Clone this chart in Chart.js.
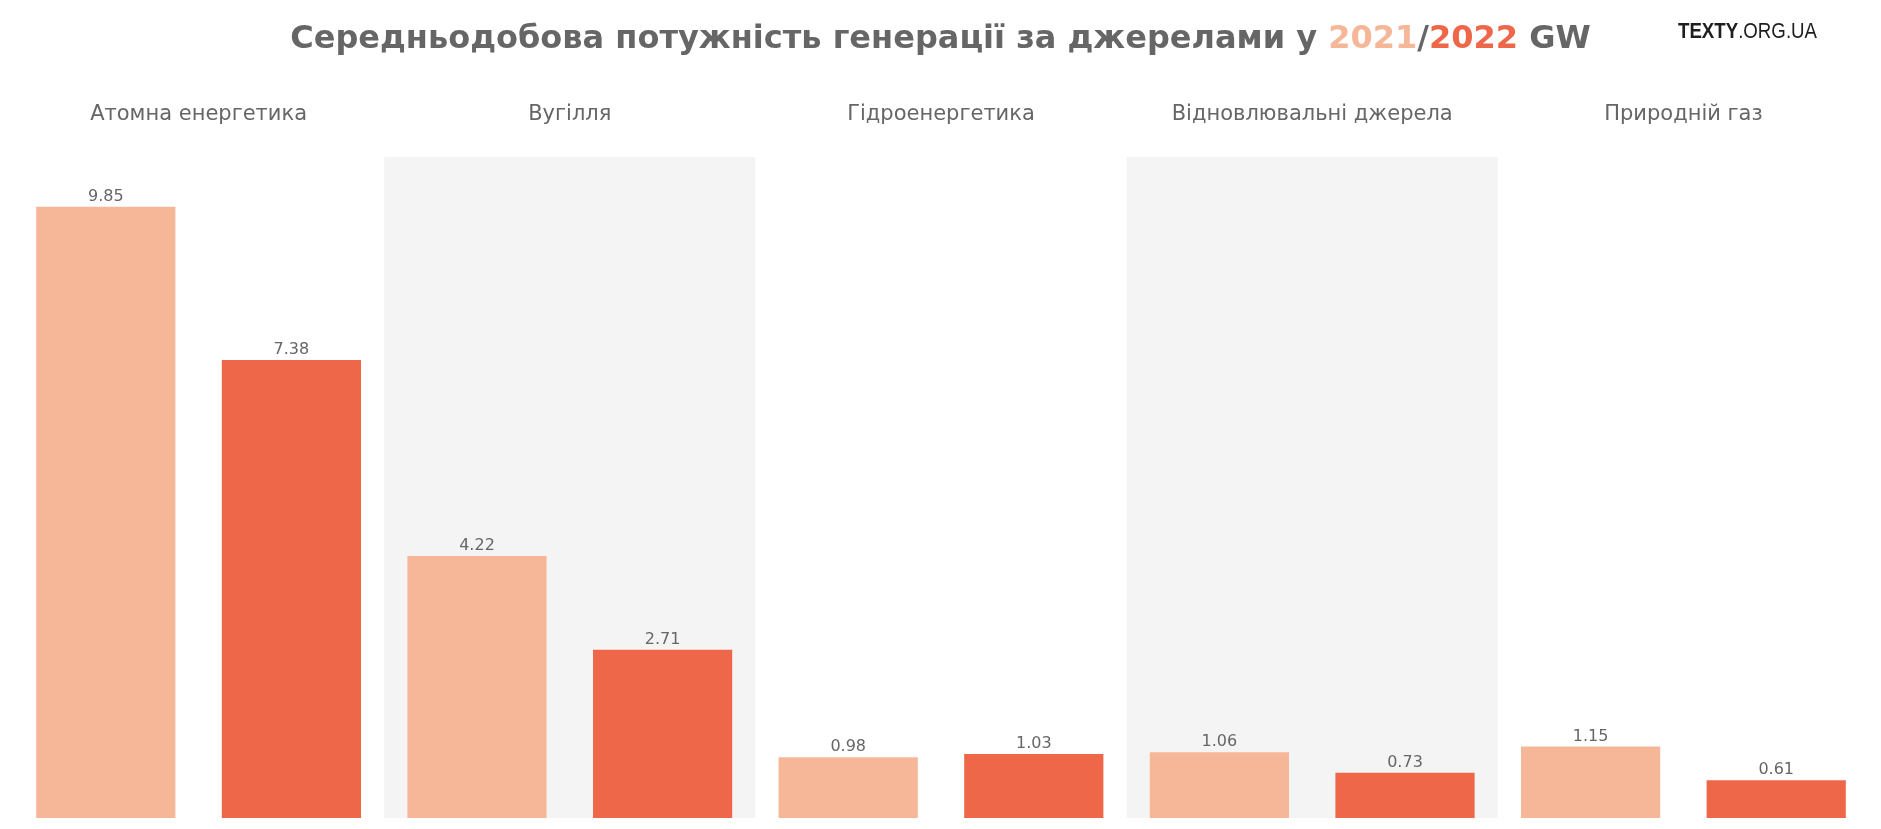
<!DOCTYPE html>
<html lang="uk">
<head>
<meta charset="utf-8">
<title>Середньодобова потужність генерації за джерелами</title>
<script src="https://cdn.jsdelivr.net/npm/chart.js@4.4.1/dist/chart.umd.min.js"></script>
<style>
  html, body { margin: 0; padding: 0; background: #fff; }
  canvas { display: block; }
</style>
</head>
<body>
<canvas id="chart" width="1881" height="829"></canvas>
<script>
const CATEGORIES = ['Атомна енергетика', 'Вугілля', 'Гідроенергетика', 'Відновлювальні джерела', 'Природній газ'];
const VALUES_2021 = [9.85, 4.22, 0.98, 1.06, 1.15];
const VALUES_2022 = [7.38, 2.71, 1.03, 0.73, 0.61];
const SHADED_PANELS = [1, 3];

const COLOR_2021 = '#f6b698';
const COLOR_2022 = '#ed6748';
const TEXT_GRAY = '#666666';
const FONT = '"DejaVu Sans", sans-serif';

// grey backdrop behind every second category
const panelShading = {
    id: 'panelShading',
    beforeDatasetsDraw(chart) {
        const { ctx, chartArea, scales } = chart;
        const half = scales.x.width / CATEGORIES.length / 2;
        ctx.save();
        ctx.fillStyle = '#f4f4f4';
        SHADED_PANELS.forEach(i => {
            const cx = scales.x.getPixelForValue(i);
            ctx.fillRect(cx - half, chartArea.top, half * 2, chartArea.bottom - chartArea.top);
        });
        ctx.restore();
    },
};

const valueLabels = {
    id: 'valueLabels',
    afterDatasetsDraw(chart) {
        const { ctx } = chart;
        ctx.save();
        ctx.font = '16px ' + FONT;
        ctx.fillStyle = TEXT_GRAY;
        ctx.textAlign = 'center';
        ctx.textBaseline = 'alphabetic';
        chart.data.datasets.forEach((ds, di) => {
            chart.getDatasetMeta(di).data.forEach((bar, i) => {
                ctx.fillText(ds.data[i].toFixed(2), bar.x, bar.y - 6);
            });
        });
        ctx.restore();
    },
};

// title with coloured years + logo
const header = {
    id: 'header',
    afterDraw(chart) {
        const { ctx, width } = chart;
        const parts = [
            ['Середньодобова потужність генерації за джерелами у ', TEXT_GRAY],
            ['2021', COLOR_2021],
            ['/', TEXT_GRAY],
            ['2022', COLOR_2022],
            [' GW', TEXT_GRAY],
        ];
        ctx.save();
        ctx.font = 'bold 32px ' + FONT;
        ctx.textBaseline = 'alphabetic';
        ctx.textAlign = 'left';
        const total = parts.reduce((s, p) => s + ctx.measureText(p[0]).width, 0);
        let x = width / 2 - total / 2;
        parts.forEach(([txt, col]) => {
            ctx.fillStyle = col;
            ctx.fillText(txt, x, 48);
            x += ctx.measureText(txt).width;
        });

        ctx.fillStyle = '#1e1e1e';
        ctx.font = 'bold 22px "Liberation Sans", sans-serif';
        const w1 = ctx.measureText('TEXTY').width;
        ctx.font = '22px "Liberation Sans", sans-serif';
        const w2 = ctx.measureText('.ORG.UA').width;
        const sx = 139 / (w1 + w2);
        ctx.translate(1678, 38);
        ctx.scale(sx, 1);
        ctx.font = 'bold 22px "Liberation Sans", sans-serif';
        ctx.fillText('TEXTY', 0, 0);
        ctx.font = '22px "Liberation Sans", sans-serif';
        ctx.fillText('.ORG.UA', w1, 0);
        ctx.restore();
    },
};

new Chart(document.getElementById('chart'), {
    type: 'bar',
    data: {
        labels: CATEGORIES,
        datasets: [
            { label: '2021', data: VALUES_2021, backgroundColor: COLOR_2021 },
            { label: '2022', data: VALUES_2022, backgroundColor: COLOR_2022 },
        ],
    },
    options: {
        responsive: false,
        animation: false,
        layout: { padding: { top: 100, left: 13, right: 12, bottom: 11 } },
        datasets: {
            bar: { barPercentage: 0.75, categoryPercentage: 1.0 },
        },
        scales: {
            x: {
                position: 'top',
                grid: { display: false, drawTicks: false },
                border: { display: false },
                ticks: {
                    color: TEXT_GRAY,
                    font: { family: FONT, size: 21 },
                    padding: 30,
                    maxRotation: 0,
                    autoSkip: false,
                },
                afterFit(scale) { scale.height = 57; },
            },
            y: {
                display: false,
                min: 0,
                max: 10.65,
            },
        },
        plugins: {
            legend: { display: false },
            title: { display: false },
            tooltip: { enabled: false },
        },
    },
    plugins: [panelShading, valueLabels, header],
});
</script>
</body>
</html>
